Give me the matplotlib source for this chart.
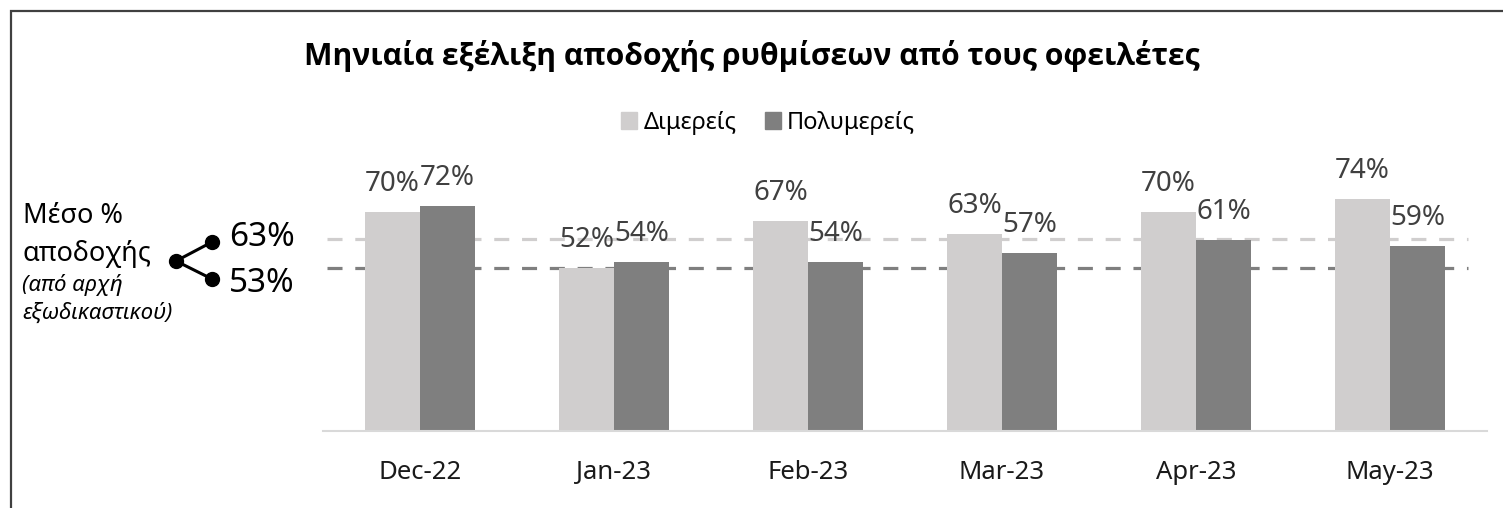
import numpy as np
import matplotlib
matplotlib.use("Agg")
import matplotlib.pyplot as plt
from matplotlib.lines import Line2D
from matplotlib.patches import Rectangle, Patch

plt.rcParams['font.family'] = ['Noto Sans', 'DejaVu Sans']

months = ['Dec-22', 'Jan-23', 'Feb-23', 'Mar-23', 'Apr-23', 'May-23']
dimereis = [70, 52, 67, 63, 70, 74]
polymereis = [72, 54, 54, 57, 61, 59]
avg_labels = ['63%', '53%']
avg_dimereis = 61.5
avg_polymereis = 52

title = 'Μηνιαία εξέλιξη αποδοχής ρυθμίσεων από τους οφειλέτες'
names = ['Διμερείς', 'Πολυμερείς']

c_light = '#D0CECE'
c_dark = '#7F7F7F'

W, H = 1503, 508
fig = plt.figure(figsize=(W / 100, H / 100), dpi=100)


def fx(px):
    return px / W


def fy(py):
    return 1 - py / H


ax = fig.add_axes([fx(323), fy(431), fx(1487 - 323), (431 - 118) / H])

x = np.arange(len(months))
width = 0.284
r1 = ax.bar(x - width / 2, dimereis, width, color=c_light)
r2 = ax.bar(x + width / 2, polymereis, width, color=c_dark)

# average lines
for val, col in [(avg_dimereis, c_light), (avg_polymereis, c_dark)]:
    ln, = ax.plot([-0.48, 5.4], [val, val], color=col, lw=2.3, zorder=0)
    ln.set_dashes((4.7, 4.0))

ax.set_xlim(-0.5, 5.5)
ax.set_ylim(0, 100)
ax.set_yticks([])
for s in ['top', 'right', 'left']:
    ax.spines[s].set_visible(False)
ax.spines['bottom'].set_color('#D9D9D9')
ax.spines['bottom'].set_linewidth(1.5)
ax.set_xticks(x)
ax.set_xticklabels(months, fontsize=18.5, color='#1a1a1a')
ax.tick_params(axis='x', length=0, pad=21)


def autolabel(rects):
    for rect in rects:
        h = rect.get_height()
        ax.annotate('%d%%' % h, (rect.get_x() + rect.get_width() / 2, h),
                    xytext=(0, 10), textcoords='offset points',
                    ha='center', va='bottom', fontsize=20, color='#404040')


autolabel(r1)
autolabel(r2)

fig.text(0.5, fy(56), title, ha='center', va='center',
         fontsize=21.7, fontweight='bold', color='black',
         family=['Open Sans', 'DejaVu Sans'])

handles = [Patch(color=c_light), Patch(color=c_dark)]
fig.legend(handles, names, loc='center', bbox_to_anchor=(fx(768), fy(123)),
           ncol=2, frameon=False, fontsize=17, handlelength=0.7,
           handleheight=0.7, handletextpad=0.25, columnspacing=1.2)

# left annotation
fig.text(fx(23), fy(216), 'Μέσο %', ha='left', va='center', fontsize=19.5)
fig.text(fx(23), fy(254), 'αποδοχής', ha='left', va='center', fontsize=19.5)
fig.text(fx(22), fy(285), '(από αρχή', ha='left', va='center',
         fontsize=16, style='italic')
fig.text(fx(22), fy(313), 'εξωδικαστικού)', ha='left', va='center',
         fontsize=16, style='italic')

for ye in [242, 279]:
    fig.add_artist(Line2D([fx(176), fx(212)], [fy(261), fy(ye)],
                          transform=fig.transFigure, color='black', lw=2.2))
fig.add_artist(Line2D([fx(176), fx(212), fx(212)], [fy(261), fy(242), fy(279)],
                      transform=fig.transFigure, color='black', lw=0,
                      marker='o', markersize=10))
fig.text(fx(229), fy(238), avg_labels[0], ha='left', va='center', fontsize=24)
fig.text(fx(229), fy(283), avg_labels[1], ha='left', va='center', fontsize=24)

# outer border
fig.add_artist(Rectangle((fx(11), fy(520)), fx(1520), fy(11) - fy(520),
                         transform=fig.transFigure, fill=False,
                         edgecolor='#404040', lw=1.6))

fig.savefig('out.png', dpi=100)
